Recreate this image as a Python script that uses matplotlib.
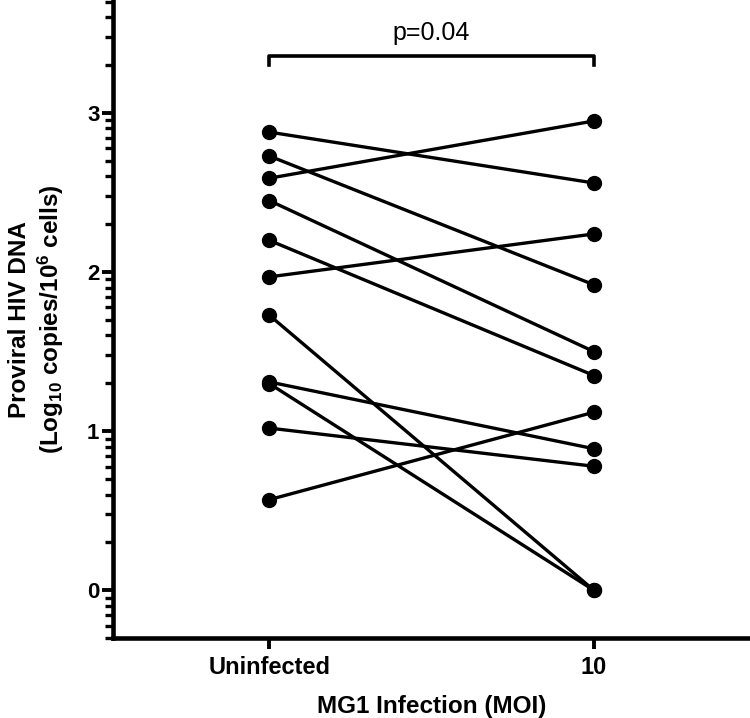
import numpy as np
import matplotlib
matplotlib.use("Agg")
import matplotlib.pyplot as plt

plt.rcParams['font.family'] = ['Liberation Sans', 'DejaVu Sans']
plt.rcParams['mathtext.fontset'] = 'custom'
plt.rcParams['mathtext.rm'] = 'Liberation Sans:bold'
plt.rcParams['mathtext.bf'] = 'Liberation Sans:bold'
plt.rcParams['mathtext.default'] = 'bf'

# paired values, log10 copies / 10^6 cells
groups = ['Uninfected', '10']
uninfected = [2.88, 2.73, 2.59, 2.45, 2.20, 1.97, 1.73, 1.31, 1.30, 1.02, 0.57]
moi10 = [2.56, 1.92, 2.95, 1.50, 1.35, 2.24, 0.00, 0.89, 0.00, 0.78, 1.12]
p_text = 'p=0.04'

fig = plt.figure(figsize=(7.5, 7.18), dpi=100)
ax = fig.add_axes([0.151, 0.111, 0.849, 0.889])

for a, b in zip(uninfected, moi10):
    ax.plot([0, 1], [a, b], color='black', lw=2.4, marker='o', ms=10,
            solid_capstyle='round', clip_on=False, zorder=3)

ax.set_xlim(-0.48, 1.48)
ax.set_ylim(np.log10(0.5), 3.71)

ax.set_xticks([0, 1])
ax.set_xticklabels(groups, fontsize=17, fontweight='bold')
ax.set_yticks([0, 1, 2, 3])
ax.set_yticklabels(['0', '1', '2', '3'], fontsize=16, fontweight='bold')

# log-style minor ticks on a log10 scale
minors = []
for d in range(-1, 4):
    for k in range(2, 10):
        v = d + np.log10(k)
        if np.log10(0.5) - 1e-6 <= v <= 3.71:
            minors.append(v)
ax.set_yticks(minors, minor=True)

ax.tick_params(axis='y', which='major', length=8, width=2.8, pad=2)
ax.tick_params(axis='y', which='minor', length=5.5, width=2.4)
ax.tick_params(axis='x', which='major', length=8, width=2.8, pad=5)

for s in ['top', 'right']:
    ax.spines[s].set_visible(False)
for s in ['left', 'bottom']:
    ax.spines[s].set_linewidth(3.3)

ax.set_xlabel('MG1 Infection (MOI)', fontsize=17.5, fontweight='bold', labelpad=11)
ax.set_ylabel('Proviral HIV DNA\n(Log$_{10}$ copies/10$^{6}$ cells)',
              fontsize=17.5, fontweight='bold', labelpad=15)

# significance bracket
ax.plot([0, 0, 1, 1], [3.30, 3.355, 3.355, 3.30], color='black', lw=2.6,
        clip_on=False)
ax.text(0.5, 3.50, p_text, ha='center', va='center', fontsize=18)

fig.savefig('out.png', dpi=100)
